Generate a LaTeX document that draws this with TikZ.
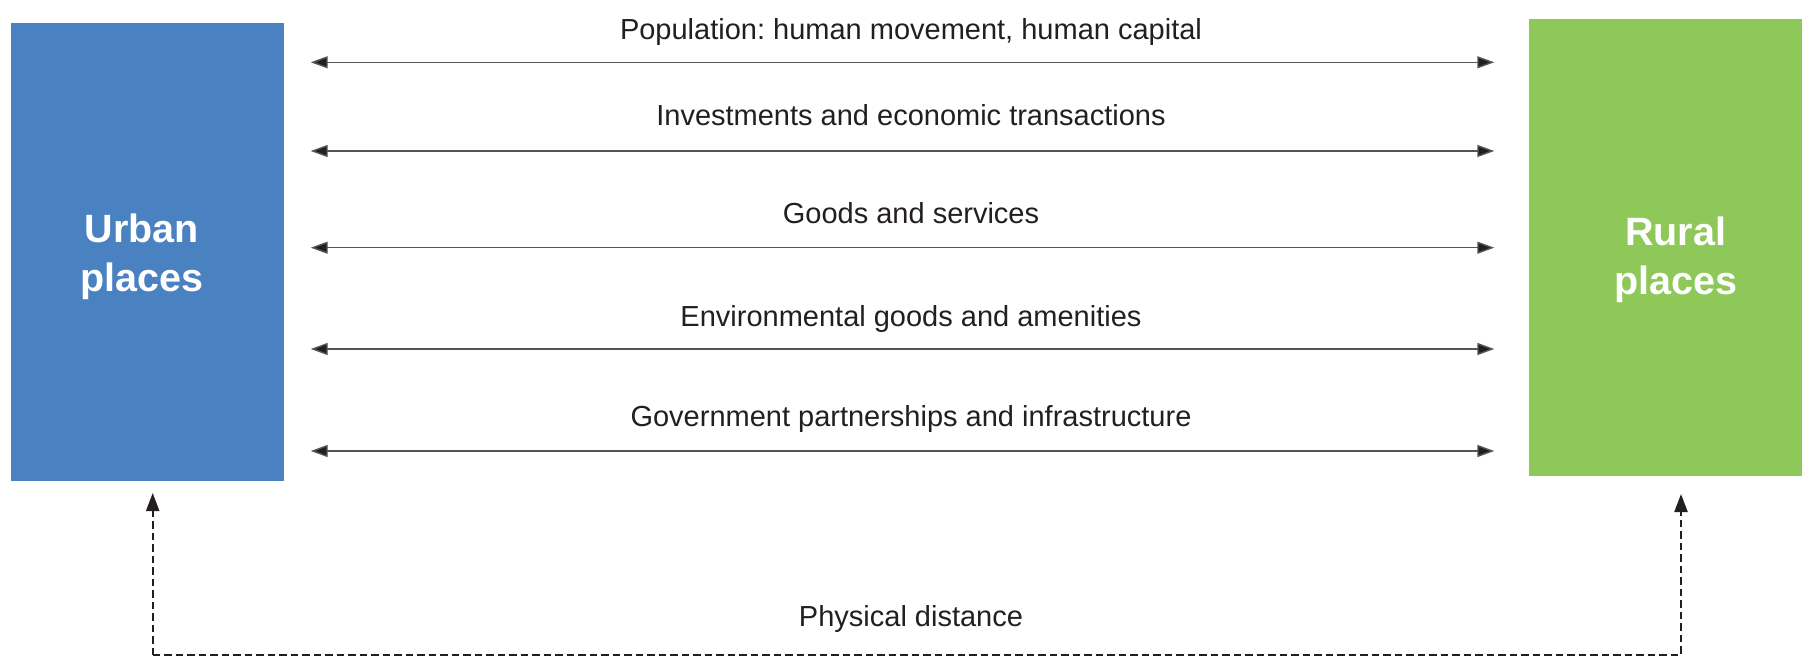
\documentclass[tikz,border=0pt]{standalone}
\usepackage{fontspec}
\setmainfont{Liberation Sans}
\usetikzlibrary{arrows.meta}
\definecolor{urbanblue}{HTML}{4A81C0}
\definecolor{ruralgreen}{HTML}{8DC858}
\definecolor{ink}{HTML}{231F20}
\definecolor{linegray}{HTML}{555555}
\tikzset{
  place/.style={draw=none, minimum width=273pt, minimum height=457pt, inner sep=0pt},
  placetext/.style={inner sep=0pt, text=white, align=center, font=\fontsize{39.5}{49}\selectfont\bfseries},
  flowlabel/.style={anchor=base, inner sep=0pt, text=ink, font=\fontsize{29}{34}\selectfont},
  flow/.style={draw=linegray, line width=1.4pt, {Triangle[length=17pt,width=12pt,fill=ink]}-{Triangle[length=17pt,width=12pt,fill=ink]}},
  distline/.style={draw=ink, line width=2.2pt, dash pattern=on 7.5pt off 4pt, -{Triangle[length=18pt,width=13pt]}}
}
\begin{document}
\frenchspacing
\begin{tikzpicture}[x=1pt,y=-1pt]
\useasboundingbox (0,0) rectangle (1816,658);
\node[place, fill=urbanblue] (urban) at (147.5,252) {};
\node[place, fill=ruralgreen] (rural) at (1665.4,247.8) {};
\node[placetext] (urbantxt) at (141.7,257.2) {Urban\\places};
\node[placetext] (ruraltxt) at (1675.8,259.4) {Rural\\places};
% flow arrows
\foreach \i/\y/\by/\txt in {1/62.3/39.3/{Population: human movement, human capital},
  2/151/126/{Investments and economic transactions},
  3/247.7/223.7/{Goods and services},
  4/349/326/{Environmental goods and amenities},
  5/451/426.7/{Government partnerships and infrastructure}}{
  \coordinate (L\i) at (310.7,\y);
  \coordinate (R\i) at (1494.3,\y);
  \node[flowlabel] (lab\i) at (911,\by) {\txt};
  \draw[flow] (L\i) -- (R\i);
}
% physical distance
\coordinate (dl) at (152.7,655);
\coordinate (dr) at (1681,655);
\coordinate (ut) at (152.7,493);
\coordinate (rt) at (1681,494);
\node[flowlabel] (phys) at (911,626.7) {Physical distance};
\draw[distline] (dl) -- (ut);
\draw[distline] (dl) -- (dr) -- (rt);
\end{tikzpicture}
\end{document}
